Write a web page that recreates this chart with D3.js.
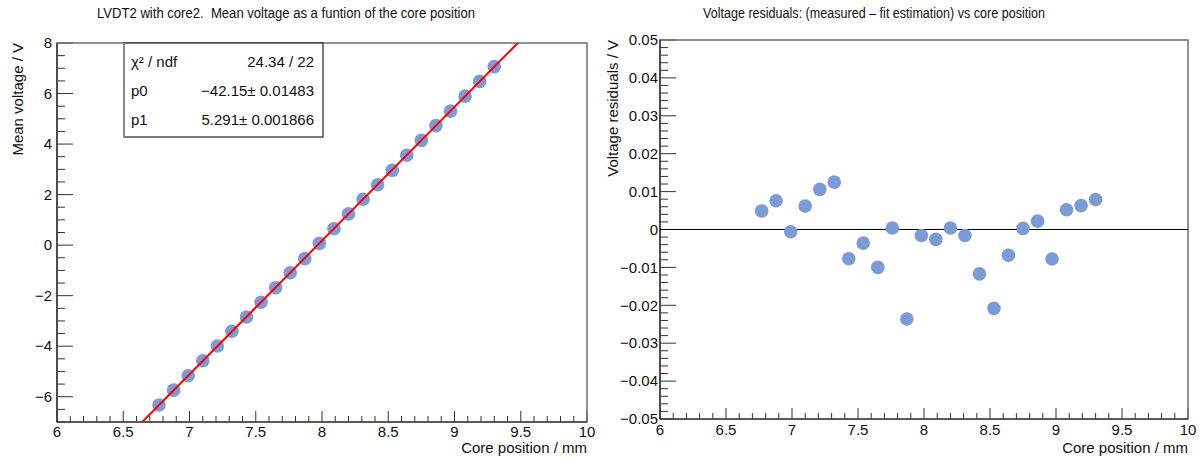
<!DOCTYPE html>
<html>
<head>
<meta charset="utf-8">
<script src="https://cdn.jsdelivr.net/npm/d3@7"></script>
<style>
  body { margin: 0; background: #fff; }
  svg { font-family: 'Liberation Sans', Arial, sans-serif; }
  .title { white-space: pre; }
</style>
</head>
<body>
<svg id="chart" width="1203" height="459"></svg>
<script>
// core positions (mm)
const corePos = [6.77, 6.88, 6.99, 7.10, 7.21, 7.32, 7.43, 7.54, 7.65, 7.76, 7.87, 7.98,
  8.09, 8.20, 8.31, 8.42, 8.53, 8.64, 8.75, 8.86, 8.97, 9.08, 9.19, 9.30];
// mean voltage (V)
const meanVoltage = [-6.325, -5.740, -5.167, -4.578, -3.991, -3.408, -2.846, -2.260, -1.684,
  -1.092, -0.534, 0.070, 0.651, 1.236, 1.816, 2.388, 2.961, 3.557, 4.146, 4.730, 5.302,
  5.897, 6.480, 7.064];
// residuals (V)
const residuals = [0.0049, 0.0076, -0.0006, 0.0062, 0.0106, 0.0125, -0.0077, -0.0036, -0.0100,
  0.0004, -0.0236, -0.0016, -0.0026, 0.0004, -0.0016, -0.0117, -0.0208, -0.0068, 0.0003,
  0.0022, -0.0078, 0.0052, 0.0063, 0.0079];
// fit parameters
const fitP0 = -42.15;
const fitP1 = 5.291;
const statLabels = ['χ² / ndf', 'p0', 'p1'];
const statValues = ['24.34 / 22', '−42.15± 0.01483', '5.291± 0.001866'];
const xTicks = [6, 6.5, 7, 7.5, 8, 8.5, 9, 9.5, 10];
const yTicksLeft = [-6, -4, -2, 0, 2, 4, 6, 8];
const yTicksRight = [-0.05, -0.04, -0.03, -0.02, -0.01, 0, 0.01, 0.02, 0.03, 0.04, 0.05];

const svg = d3.select('#chart');
const frameColor = '#6e6e6e';
const dotColor = '#7b9bd6';
const fmtMinus = s => s.replace('-', '−');

const drawPanel = (cfg) => {
  const x = d3.scaleLinear().domain([6, 10]).range([cfg.left, cfg.right]);
  const y = d3.scaleLinear().domain(cfg.yDomain).range([cfg.bottom, cfg.top]);
  const g = svg.append('g');

  // minor / major x ticks (pointing inward)
  const xMinor = d3.range(60, 101).map(v => v / 10);
  g.selectAll('.xminor').data(xMinor).enter().append('line')
    .attr('x1', d => x(d)).attr('x2', d => x(d))
    .attr('y1', cfg.bottom).attr('y2', d => cfg.bottom - (Math.abs(d * 2 - Math.round(d * 2)) < 1e-6 ? 11 : 6))
    .attr('stroke', '#333').attr('stroke-width', 1);

  // y ticks
  g.selectAll('.yminor').data(cfg.yMinor).enter().append('line')
    .attr('x1', cfg.left).attr('x2', d => cfg.left + (cfg.isMajor(d) ? 16 : 8))
    .attr('y1', d => y(d)).attr('y2', d => y(d))
    .attr('stroke', '#333').attr('stroke-width', 1);

  // frame
  g.append('rect')
    .attr('x', cfg.left).attr('y', cfg.top)
    .attr('width', cfg.right - cfg.left).attr('height', cfg.bottom - cfg.top)
    .attr('fill', 'none').attr('stroke', frameColor).attr('stroke-width', 1.5);
  g.append('line')
    .attr('x1', cfg.left).attr('x2', cfg.right)
    .attr('y1', cfg.bottom).attr('y2', cfg.bottom)
    .attr('stroke', '#222').attr('stroke-width', 1.2);
  g.append('line')
    .attr('x1', cfg.left).attr('x2', cfg.left)
    .attr('y1', cfg.top).attr('y2', cfg.bottom)
    .attr('stroke', '#222').attr('stroke-width', 1.2);

  // tick labels
  g.selectAll('.xlab').data(xTicks).enter().append('text')
    .attr('x', d => x(d)).attr('y', cfg.bottom + cfg.xLabelOff)
    .attr('text-anchor', 'middle').attr('font-size', 15).attr('fill', '#111')
    .text(d => fmtMinus(String(d)));
  g.selectAll('.ylab').data(cfg.yTicks).enter().append('text')
    .attr('x', cfg.left - cfg.labelGap).attr('y', d => y(d)).attr('dy', '0.35em')
    .attr('text-anchor', 'end').attr('font-size', 15).attr('fill', '#111')
    .text(d => fmtMinus(cfg.yFormat(d)));

  // axis titles
  g.append('text')
    .attr('x', cfg.right).attr('y', 453)
    .attr('text-anchor', 'end').attr('font-size', 15).attr('fill', '#111')
    .text('Core position / mm');
  g.append('text')
    .attr('transform', `translate(${cfg.yTitleX},${cfg.top}) rotate(-90)`)
    .attr('text-anchor', 'end').attr('font-size', 15).attr('fill', '#111')
    .text(cfg.yTitle);

  // title
  g.append('text')
    .attr('class', 'title')
    .attr('x', cfg.titleX).attr('y', 18)
    .attr('text-anchor', 'middle').attr('font-size', 14).attr('fill', '#111')
    .attr('textLength', cfg.titleLen).attr('lengthAdjust', 'spacingAndGlyphs')
    .text(cfg.title);

  return { g, x, y };
};

// ---- left panel: mean voltage ----
const left = drawPanel({
  left: 57, right: 587, top: 43, bottom: 422,
  yDomain: [-7, 8],
  yMinor: d3.range(-14, 17).map(v => v / 2),
  isMajor: d => Math.abs(d / 2 - Math.round(d / 2)) < 1e-6,
  yTicks: yTicksLeft,
  yFormat: d => String(d),
  labelGap: 5,
  xLabelOff: 15,
  yTitle: 'Mean voltage / V',
  yTitleX: 23,
  title: 'LVDT2 with core2.  Mean voltage as a funtion of the core position',
  titleX: 286,
  titleLen: 378
});

svg.append('clipPath').attr('id', 'clipL').append('rect')
  .attr('x', 57).attr('y', 43).attr('width', 530).attr('height', 379);

left.g.selectAll('.dot').data(corePos).enter().append('circle')
  .attr('cx', d => left.x(d))
  .attr('cy', (d, i) => left.y(meanVoltage[i]))
  .attr('r', 6.8)
  .attr('fill', dotColor);

const fitLine = d3.line()
  .x(d => left.x(d))
  .y(d => left.y(fitP0 + fitP1 * d));
left.g.append('path')
  .datum([6, 10])
  .attr('clip-path', 'url(#clipL)')
  .attr('fill', 'none')
  .attr('stroke', '#ff0000')
  .attr('stroke-width', 2)
  .attr('d', fitLine);

// stats box
const stats = left.g.append('g');
stats.append('rect')
  .attr('x', 124).attr('y', 43).attr('width', 199).attr('height', 94)
  .attr('fill', '#fff').attr('stroke', '#222').attr('stroke-width', 1.2);
stats.append('line')
  .attr('x1', 124).attr('x2', 124).attr('y1', 43).attr('y2', 137)
  .attr('stroke', '#888').attr('stroke-width', 2);
stats.selectAll('.slab').data(statLabels).enter().append('text')
  .attr('x', 131).attr('y', (d, i) => 67 + i * 29)
  .attr('font-size', 15).attr('fill', '#111')
  .text(d => d);
stats.selectAll('.sval').data(statValues).enter().append('text')
  .attr('x', 314).attr('y', (d, i) => 67 + i * 29)
  .attr('text-anchor', 'end').attr('font-size', 15).attr('fill', '#111')
  .text(d => d);

// ---- right panel: residuals ----
const right = drawPanel({
  left: 660, right: 1188, top: 40, bottom: 419,
  yDomain: [-0.05, 0.05],
  yMinor: d3.range(-25, 26).map(v => v / 500),
  isMajor: d => Math.abs(d * 100 - Math.round(d * 100)) < 1e-6,
  yTicks: yTicksRight,
  yFormat: d => (d === 0 ? '0' : d3.format('.2f')(d)),
  labelGap: 2,
  xLabelOff: 16,
  yTitle: 'Voltage residuals / V',
  yTitleX: 618,
  title: 'Voltage residuals: (measured – fit estimation) vs core position',
  titleX: 874,
  titleLen: 342
});

right.g.append('line')
  .attr('x1', 660).attr('x2', 1188)
  .attr('y1', right.y(0)).attr('y2', right.y(0))
  .attr('stroke', '#000').attr('stroke-width', 1.2);

right.g.selectAll('.dot').data(corePos).enter().append('circle')
  .attr('cx', d => right.x(d))
  .attr('cy', (d, i) => right.y(residuals[i]))
  .attr('r', 6.8)
  .attr('fill', dotColor);
</script>
</body>
</html>
